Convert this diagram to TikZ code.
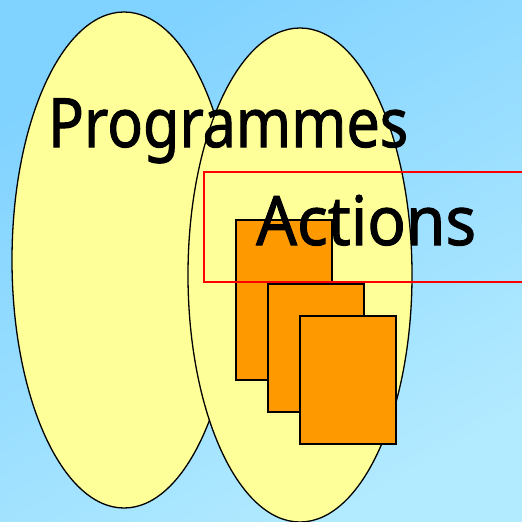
\documentclass[tikz,border=0pt]{standalone}
\usepackage{fontspec}
\setmainfont[FakeBold=1.5]{Noto Sans}
\definecolor{skyA}{RGB}{128,210,255}
\definecolor{skyB}{RGB}{178,234,255}
\definecolor{paleyellow}{RGB}{255,255,153}
\definecolor{boxorange}{RGB}{255,153,0}
\begin{document}
\begin{tikzpicture}[x=1pt,y=-1pt,
  setshape/.style={draw=black,fill=paleyellow,line width=1.3pt},
  sheet/.style={draw=black,fill=boxorange,line width=1.3pt},
  frame/.style={draw=red,line width=1.2pt},
  bigword/.style={inner sep=0pt,anchor=base west,font=\fontsize{68}{68}\selectfont}]
  % sky-blue backdrop, darker at the top left
  \shade[top color=skyA,bottom color=skyB,shading angle=30] (0,0) rectangle (522,522);
  \useasboundingbox (0,0) rectangle (522,522);
  % the two sets
  \draw[setshape] (124,260) ellipse [x radius=112,y radius=248];
  \draw[setshape] (300,275) ellipse [x radius=112,y radius=247];
  % stacked sheets
  \draw[sheet] (236,220) rectangle (332,380);
  \draw[sheet] (268,284) rectangle (364,412);
  \draw[sheet] (300,316) rectangle (396,444);
  % highlighted band
  \draw[frame] (204,172) rectangle (530,282);
  % labels
  \node[bigword] (prog) at (48,147) {\scalebox{0.87}[1]{Programmes}};
  \node[bigword] (act) at (256,245) {\scalebox{0.94}[1]{Actions}};
\end{tikzpicture}
\end{document}
